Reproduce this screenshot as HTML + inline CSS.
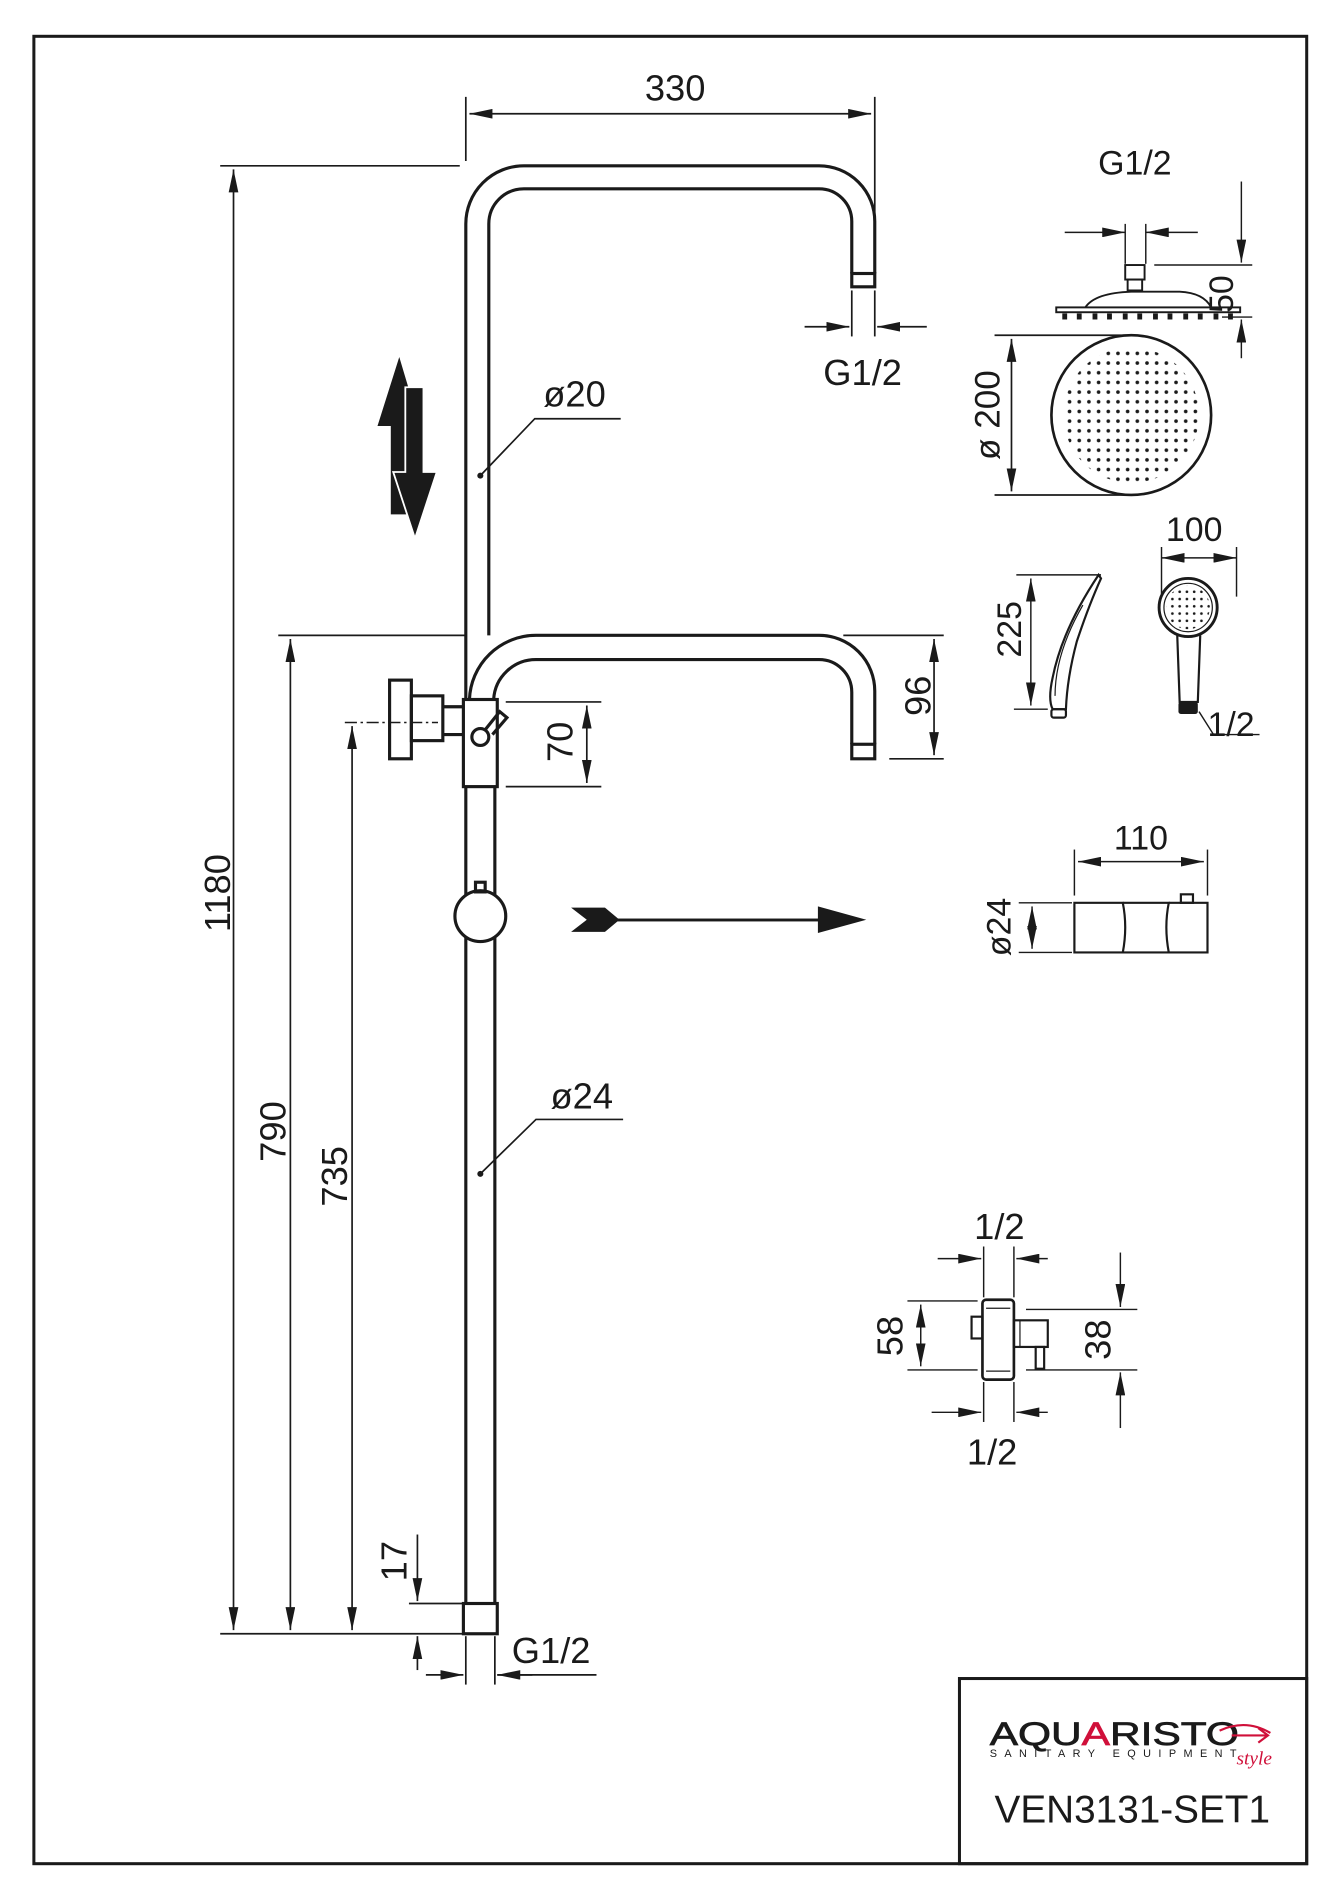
<!DOCTYPE html>
<html><head><meta charset="utf-8"><style>
html,body{margin:0;padding:0;background:#fff;}
svg{display:block;}
text{font-family:"Liberation Sans",Arial,sans-serif;fill:#1a1a1a;}
</style></head><body>
<svg width="1343" height="1900" viewBox="0 0 1110 1570" preserveAspectRatio="none" xmlns="http://www.w3.org/2000/svg">
<defs>
<marker id="a" viewBox="0 0 10 10" refX="10" refY="5" markerWidth="19" markerHeight="8" orient="auto-start-reverse" markerUnits="userSpaceOnUse" preserveAspectRatio="none"><path d="M0,0 L10,5 L0,10 z" fill="#1a1a1a"/></marker>
<pattern id="dots" width="8" height="8" patternUnits="userSpaceOnUse"><circle cx="4" cy="4" r="1.5" fill="#1a1a1a"/></pattern>
<pattern id="dots2" width="6" height="6" patternUnits="userSpaceOnUse"><circle cx="3" cy="3" r="1.1" fill="#1a1a1a"/></pattern>
</defs>
<rect width="1110" height="1570" fill="#fff"/>
<g fill="none" stroke="#1a1a1a">
<rect x="28" y="30" width="1052" height="1510" stroke-width="2.5"/>
<rect x="793" y="1387" width="287" height="153" stroke-width="2.5"/>

<g stroke-width="2.6">
<path d="M385,578 L385,185 A48,48 0 0 1 433,137 L677,137 A46,46 0 0 1 723,183 L723,226"/>
<path d="M404,525 L404,185 A29,29 0 0 1 433,156 L677,156 A27,27 0 0 1 704,183 L704,226"/>
<rect x="704" y="226" width="19" height="11"/>
<path d="M388,578 A55,55 0 0 1 443,525 L677,525 A46,46 0 0 1 723,571 L723,615"/>
<path d="M408,578 A35,35 0 0 1 443,545 L677,545 A27,27 0 0 1 704,572 L704,615"/>
<rect x="704" y="615" width="19" height="12"/>
<rect x="383" y="578" width="28" height="72"/>
<line x1="385" y1="650" x2="385" y2="1325"/>
<line x1="409" y1="650" x2="409" y2="1325"/>
<rect x="383" y="1325" width="28" height="25"/>
<circle cx="397" cy="757" r="21" fill="#fff"/>
<rect x="393" y="729" width="8" height="8"/>
<rect x="322" y="562" width="18" height="65"/>
<rect x="340" y="575" width="26" height="37"/>
<path d="M366,584 L383,584 M366,607 L383,607"/>
<circle cx="397" cy="609" r="7" fill="#fff"/>
<path d="M401,603 L413,588 L419,593 L407,607"/>
</g>
<line x1="285" y1="597" x2="362" y2="597" stroke-width="1.2" stroke-dasharray="10,3,2,3"/>

<g stroke-width="1.4">
<line x1="385" y1="80" x2="385" y2="133"/><line x1="723" y1="80" x2="723" y2="180"/>
<line x1="388" y1="94" x2="720" y2="94" marker-start="url(#a)" marker-end="url(#a)"/>
<line x1="182" y1="137" x2="380" y2="137"/><line x1="182" y1="1350" x2="383" y2="1350"/>
<line x1="193" y1="140" x2="193" y2="1347" marker-start="url(#a)" marker-end="url(#a)"/>
<line x1="230" y1="525" x2="385" y2="525"/>
<line x1="240" y1="528" x2="240" y2="1347" marker-start="url(#a)" marker-end="url(#a)"/>
<line x1="291" y1="600" x2="291" y2="1347" marker-start="url(#a)" marker-end="url(#a)"/>
<line x1="338" y1="1325" x2="383" y2="1325"/>
<line x1="345" y1="1268" x2="345" y2="1323" marker-end="url(#a)"/>
<line x1="345" y1="1380" x2="345" y2="1352" marker-end="url(#a)"/>
<line x1="385" y1="1352" x2="385" y2="1392"/><line x1="409" y1="1352" x2="409" y2="1392"/>
<line x1="352" y1="1384" x2="383" y2="1384" marker-end="url(#a)"/>
<line x1="440" y1="1384" x2="411" y2="1384" marker-end="url(#a)"/>
<line x1="411" y1="1384" x2="493" y2="1384"/>
<line x1="665" y1="270" x2="702" y2="270" marker-end="url(#a)"/>
<line x1="766" y1="270" x2="725" y2="270" marker-end="url(#a)"/>
<line x1="704" y1="240" x2="704" y2="278"/><line x1="723" y1="240" x2="723" y2="278"/>
<line x1="697" y1="525" x2="780" y2="525"/><line x1="735" y1="627" x2="780" y2="627"/>
<line x1="772" y1="528" x2="772" y2="624" marker-start="url(#a)" marker-end="url(#a)"/>
<line x1="418" y1="580" x2="497" y2="580"/><line x1="418" y1="650" x2="497" y2="650"/>
<line x1="485" y1="583" x2="485" y2="647" marker-start="url(#a)" marker-end="url(#a)"/>
<polyline points="397,393 442,346 513,346"/>
<polyline points="397,970 443,925 515,925"/>
</g>
<circle cx="397" cy="393" r="2.5" fill="#1a1a1a" stroke="none"/>
<circle cx="397" cy="970" r="2.5" fill="#1a1a1a" stroke="none"/>
</g>

<path d="M330,295 L312,352 L323,352 L323,425 L337,425 L337,352 L347,352 Z" fill="#1a1a1a"/>
<path d="M343,445 L325,390 L335,390 L335,320 L350,320 L350,390 L361,390 Z" fill="#1a1a1a" stroke="#fff" stroke-width="1.5"/>
<path d="M472,750 L500,750 L512,760 L500,770 L472,770 L485,760 Z" fill="#1a1a1a"/>
<rect x="500" y="759" width="180" height="2.4" fill="#1a1a1a"/>
<path d="M676,749 L716,760 L676,771 Z" fill="#1a1a1a"/>

<g font-size="30">
<text x="558" y="83" text-anchor="middle">330</text>
<text x="713" y="318" text-anchor="middle">G1/2</text>
<text x="449" y="336">ø20</text>
<text x="455" y="916">ø24</text>
<text x="423" y="1374">G1/2</text>
<text transform="translate(190,738) rotate(-90)" text-anchor="middle">1180</text>
<text transform="translate(236,935) rotate(-90)" text-anchor="middle">790</text>
<text transform="translate(287,972) rotate(-90)" text-anchor="middle">735</text>
<text transform="translate(336,1290) rotate(-90)" text-anchor="middle">17</text>
<text transform="translate(473,613) rotate(-90)" text-anchor="middle">70</text>
<text transform="translate(769,575) rotate(-90)" text-anchor="middle">96</text>
</g>

<g fill="none" stroke="#1a1a1a" stroke-width="1.6">
<line x1="880" y1="192" x2="930" y2="192" stroke-width="1.2" marker-end="url(#a)"/>
<line x1="990" y1="192" x2="947" y2="192" stroke-width="1.2" marker-end="url(#a)"/>
<line x1="930" y1="185" x2="930" y2="218" stroke-width="1.2"/><line x1="947" y1="185" x2="947" y2="218" stroke-width="1.2"/>
<rect x="930" y="219" width="16" height="12"/>
<rect x="932" y="231" width="12" height="9"/>
<path d="M897,254 Q905,242 935,241 L975,241 Q995,242 1001,254"/>
<rect x="873" y="254" width="152" height="4"/>
<line x1="954" y1="219" x2="1035" y2="219" stroke-width="1.2"/><line x1="1010" y1="262" x2="1035" y2="262" stroke-width="1.2"/>
<line x1="1026" y1="150" x2="1026" y2="217" stroke-width="1.2" marker-end="url(#a)"/>
<line x1="1026" y1="296" x2="1026" y2="264" stroke-width="1.2" marker-end="url(#a)"/>
</g>
<g fill="#1a1a1a">
<rect x="878" y="259" width="4" height="5"/><rect x="890" y="259" width="4" height="5"/><rect x="903" y="259" width="4" height="5"/><rect x="915" y="259" width="4" height="5"/><rect x="928" y="259" width="4" height="5"/><rect x="940" y="259" width="4" height="5"/><rect x="953" y="259" width="4" height="5"/><rect x="965" y="259" width="4" height="5"/><rect x="978" y="259" width="4" height="5"/><rect x="990" y="259" width="4" height="5"/><rect x="1003" y="259" width="4" height="5"/><rect x="1015" y="259" width="4" height="5"/>
</g>
<text x="938" y="144" font-size="28" text-anchor="middle">G1/2</text>
<text transform="translate(1019,243) rotate(-90)" font-size="28" text-anchor="middle">50</text>

<circle cx="935" cy="343" r="66" fill="#fff" stroke="#1a1a1a" stroke-width="2.2"/>
<circle cx="935" cy="343" r="56" fill="url(#dots)"/>
<g stroke="#1a1a1a" stroke-width="1.4" fill="none">
<line x1="822" y1="277" x2="935" y2="277"/><line x1="822" y1="409" x2="935" y2="409"/>
<line x1="836" y1="280" x2="836" y2="406" marker-start="url(#a)" marker-end="url(#a)"/>
</g>
<text transform="translate(826,343) rotate(-90)" font-size="29" text-anchor="middle">ø 200</text>

<g fill="none" stroke="#1a1a1a" stroke-width="1.8">
<line x1="840" y1="475" x2="910" y2="475" stroke-width="1.2"/><line x1="838" y1="586" x2="866" y2="586" stroke-width="1.2"/>
<line x1="852" y1="478" x2="852" y2="583" stroke-width="1.2" marker-start="url(#a)" marker-end="url(#a)"/>
<path d="M908,475 Q878,520 870,560 Q866,578 870,586 L881,586 Q882,560 890,530 Q900,500 910,478 Z"/>
<path d="M872,575 Q872,540 895,500" stroke-width="1"/>
<rect x="869" y="586" width="12" height="7" rx="2"/>
</g>
<text transform="translate(844,520) rotate(-90)" font-size="28" text-anchor="middle">225</text>

<g fill="none" stroke="#1a1a1a" stroke-width="1.8">
<line x1="960" y1="452" x2="960" y2="493" stroke-width="1.2"/><line x1="1022" y1="452" x2="1022" y2="493" stroke-width="1.2"/>
<line x1="960" y1="461" x2="1022" y2="461" stroke-width="1.2" marker-start="url(#a)" marker-end="url(#a)"/>
<circle cx="982" cy="502" r="24" stroke-width="2.4"/>
<circle cx="982" cy="502" r="20" stroke-width="1"/>
<path d="M973,525 L975,580 L990,580 L992,525"/>
<polyline points="991,588 1003,607 1041,607" stroke-width="1.2"/>
</g>
<circle cx="982" cy="502" r="18" fill="url(#dots2)"/>
<rect x="974" y="580" width="16" height="10" rx="2" fill="#1a1a1a"/>
<text x="987" y="447" font-size="28" text-anchor="middle">100</text>
<text x="998" y="608" font-size="28">1/2</text>

<g fill="none" stroke="#1a1a1a" stroke-width="1.8">
<line x1="888" y1="702" x2="888" y2="740" stroke-width="1.2"/><line x1="998" y1="702" x2="998" y2="740" stroke-width="1.2"/>
<line x1="891" y1="712" x2="995" y2="712" stroke-width="1.2" marker-start="url(#a)" marker-end="url(#a)"/>
<path d="M888,746 L928,746 Q932,766 928,787 L888,787 Z"/>
<path d="M928,746 L966,746 Q962,766 966,787 L928,787"/>
<path d="M966,746 L998,746 L998,787 L966,787"/>
<rect x="976" y="739" width="10" height="7"/>
<line x1="842" y1="746" x2="886" y2="746" stroke-width="1.2"/><line x1="842" y1="787" x2="886" y2="787" stroke-width="1.2"/>
<line x1="853" y1="749" x2="853" y2="784" stroke-width="1.2" marker-start="url(#a)" marker-end="url(#a)"/>
</g>
<text x="943" y="702" font-size="28" text-anchor="middle">110</text>
<text transform="translate(835,766) rotate(-90)" font-size="28" text-anchor="middle">ø24</text>

<g fill="none" stroke="#1a1a1a" stroke-width="1.8">
<line x1="813" y1="1030" x2="813" y2="1072" stroke-width="1.2"/><line x1="838" y1="1030" x2="838" y2="1072" stroke-width="1.2"/>
<line x1="775" y1="1040" x2="811" y2="1040" stroke-width="1.2" marker-end="url(#a)"/>
<line x1="866" y1="1040" x2="840" y2="1040" stroke-width="1.2" marker-end="url(#a)"/>
<line x1="813" y1="1142" x2="813" y2="1175" stroke-width="1.2"/><line x1="838" y1="1142" x2="838" y2="1175" stroke-width="1.2"/>
<line x1="770" y1="1167" x2="811" y2="1167" stroke-width="1.2" marker-end="url(#a)"/>
<line x1="866" y1="1167" x2="840" y2="1167" stroke-width="1.2" marker-end="url(#a)"/>
<rect x="812" y="1074" width="26" height="66" rx="3" stroke-width="2.2"/>
<line x1="815" y1="1081" x2="835" y2="1081" stroke-width="1"/><line x1="815" y1="1133" x2="835" y2="1133" stroke-width="1"/>
<rect x="803" y="1088" width="9" height="18"/>
<rect x="838" y="1091" width="28" height="22"/>
<line x1="843" y1="1091" x2="843" y2="1113" stroke-width="1"/>
<rect x="856" y="1113" width="7" height="18"/>
<line x1="750" y1="1075" x2="808" y2="1075" stroke-width="1.2"/><line x1="750" y1="1132" x2="808" y2="1132" stroke-width="1.2"/>
<line x1="761" y1="1078" x2="761" y2="1129" stroke-width="1.2" marker-start="url(#a)" marker-end="url(#a)"/>
<line x1="848" y1="1082" x2="940" y2="1082" stroke-width="1.2"/><line x1="848" y1="1132" x2="940" y2="1132" stroke-width="1.2"/>
<line x1="926" y1="1035" x2="926" y2="1080" stroke-width="1.2" marker-end="url(#a)"/>
<line x1="926" y1="1180" x2="926" y2="1134" stroke-width="1.2" marker-end="url(#a)"/>
</g>
<text x="826" y="1024" font-size="30" text-anchor="middle">1/2</text>
<text x="820" y="1210" font-size="30" text-anchor="middle">1/2</text>
<text transform="translate(746,1104) rotate(-90)" font-size="30" text-anchor="middle">58</text>
<text transform="translate(918,1107) rotate(-90)" font-size="30" text-anchor="middle">38</text>

<text x="818" y="1442" font-size="27" textLength="206" lengthAdjust="spacingAndGlyphs" fill="#1a1a1a" stroke="#1a1a1a" stroke-width="0.6">AQU<tspan fill="#d0103a" stroke="#d0103a">A</tspan>RISTO</text>
<text x="818" y="1452" font-size="9" textLength="204" lengthAdjust="spacing">SANITARY EQUIPMENT</text>
<path d="M1008,1430 Q1030,1420 1050,1432 M1018,1434 L1048,1434 M1040,1428 L1048,1434 L1040,1440" fill="none" stroke="#d0103a" stroke-width="1.8"/>
<text x="1022" y="1458" font-size="16" font-style="italic" style="fill:#d0103a;font-family:'Liberation Serif',serif">style</text>
<text x="822" y="1506" font-size="32">VEN3131-SET1</text>
</svg>
</body></html>
